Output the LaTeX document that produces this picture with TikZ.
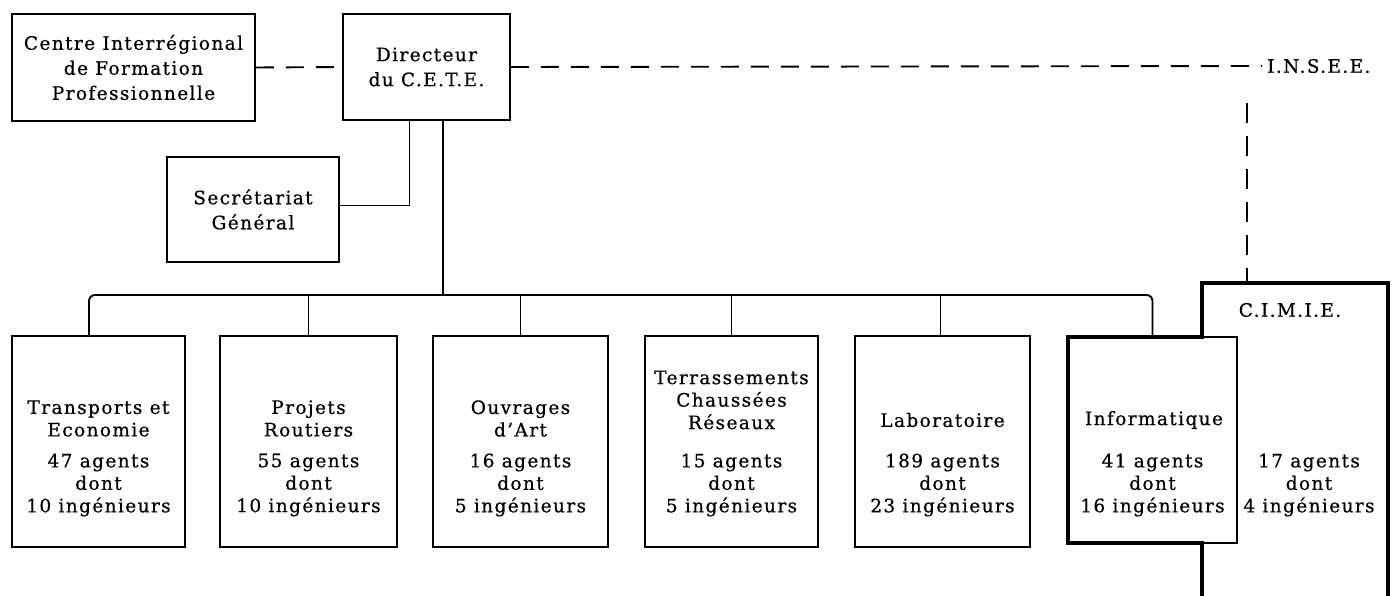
\documentclass[tikz,border=0pt]{standalone}
\usepackage{fontspec}
\setmainfont{DejaVu Serif}[LetterSpace=7.5, FakeBold=0.6]
\begin{document}
\begin{tikzpicture}[x=1pt,y=-1pt,
  every node/.style={font=\fontsize{18.5}{22.5}\selectfont, align=center},
  box/.style={draw, line width=1.9pt, inner sep=0pt},
  txt/.style={inner sep=0pt},
  ln/.style={line width=1.9pt},
  dsh/.style={line width=1.9pt, dash pattern=on 18pt off 12pt},
  thick line/.style={line width=4pt, line join=miter}]
\useasboundingbox (0,0) rectangle (1393,596);
% top boxes
\node[box, minimum width=243pt, minimum height=107pt] (cifp) at (133.5,67.5)
  {Centre Interrégional\\[2.5pt]de Formation\\[2.5pt]Professionnelle};
\node[box, minimum width=167pt, minimum height=106pt] (dir) at (426.5,67)
  {Directeur\\[2.5pt]du C.E.T.E.};
\node[box, minimum width=172pt, minimum height=105pt] (sec) at (253,209.5)
  {Secrétariat\\[2.5pt]Général};
\node[txt, anchor=west, inner xsep=5pt] (insee) at (1262,66) {I.N.S.E.E.};
% bottom boxes
\node[box, minimum width=173pt, minimum height=211pt] (t1) at (98.5,441.5) {};
\node[box, minimum width=177pt, minimum height=211pt] (t2) at (308.5,441.5) {};
\node[box, minimum width=175pt, minimum height=211pt] (t3) at (520.5,441.5) {};
\node[box, minimum width=173pt, minimum height=211pt] (t4) at (731.5,441.5) {};
\node[box, minimum width=175pt, minimum height=211pt] (t5) at (942.5,441.5) {};
\node[box, minimum width=169pt, minimum height=206pt] (t6) at (1152.5,440) {};
% titles
\node[txt] (t1a) at (98.5,418.5) {Transports et\\Economie};
\node[txt] (t2a) at (308.5,418.5) {Projets\\Routiers};
\node[txt] (t3a) at (520.5,418.5) {Ouvrages\\d'Art};
\node[txt] (t4a) at (731.5,400) {Terrassements\\Chaussées\\Réseaux};
\node[txt] (t5a) at (942.5,420) {Laboratoire};
\node[txt] (t6a) at (1154,420) {Informatique};
\node[txt] (cimie) at (1290,310) {C.I.M.I.E.};
% counts
\node[txt] (t1b) at (98.5,485) {47 agents\\dont\\10 ingénieurs};
\node[txt] (t2b) at (308.5,485) {55 agents\\dont\\10 ingénieurs};
\node[txt] (t3b) at (520.5,485) {16 agents\\dont\\5 ingénieurs};
\node[txt] (t4b) at (731.5,485) {15 agents\\dont\\5 ingénieurs};
\node[txt] (t5b) at (942.5,485) {189 agents\\dont\\23 ingénieurs};
\node[txt] (t6b) at (1152.5,485) {41 agents\\dont\\16 ingénieurs};
\node[txt] (t7b) at (1309,485) {17 agents\\dont\\4 ingénieurs};
% connectors
\coordinate (bus) at (0,295);
\coordinate (idrop) at (1247,103);
\coordinate (ctop) at (1247,283);
\draw[dsh] (cifp.east) -- (dir.west);
\draw[dsh] (dir.east) -- (insee.west);
\draw[line width=1.9pt, dash pattern=on 20pt off 13pt] (idrop) -- (ctop);
\draw[ln] ([xshift=-17pt]dir.south) |- ([yshift=4pt]sec.east);
\draw[ln] ([xshift=16.5pt]dir.south) -- ([xshift=16.5pt]dir.south |- bus);
\draw[ln, rounded corners=6pt] ([xshift=-9.5pt]t1.north) -- ([xshift=-9.5pt]t1.north |- bus)
  -- (t6.north |- bus) -- (t6.north);
\draw[ln] (t2.north) -- (t2.north |- bus);
\draw[ln] (t3.north) -- (t3.north |- bus);
\draw[ln] (t4.north) -- (t4.north |- bus);
\draw[ln] ([xshift=-2pt]t5.north) -- ([xshift=-2pt]t5.north |- bus);
% C.I.M.I.E. thick outline
\draw[thick line] (1202,600) -- (1202,543) -- (1068,543) -- (1068,337) -- (1202,337)
  -- (1202,283) -- (1388,283) -- (1388,600);
\end{tikzpicture}
\end{document}
